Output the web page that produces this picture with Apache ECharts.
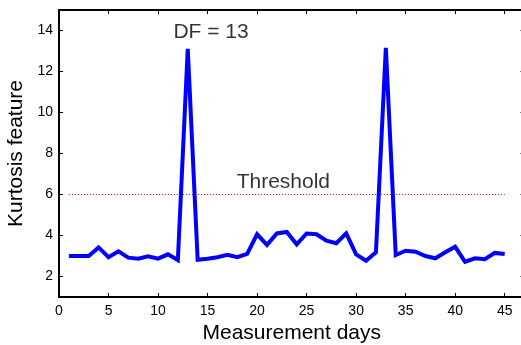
<!DOCTYPE html>
<html>
<head>
<meta charset="utf-8">
<script src="https://cdn.jsdelivr.net/npm/echarts@6/dist/echarts.min.js"></script>
<style>
html,body{margin:0;padding:0;background:#fff;}
#c{width:521px;height:345px;}
</style>
</head>
<body>
<div id="c"></div>
<script>
const days = [1,2,3,4,5,6,7,8,9,10,11,12,13,14,15,16,17,18,19,20,21,22,23,24,25,26,27,28,29,30,31,32,33,34,35,36,37,38,39,40,41,42,43,44,45];
const kurtosis = [3.0,3.0,3.0,3.42,2.94,3.23,2.92,2.87,2.98,2.87,3.08,2.8,13.1,2.82,2.87,2.94,3.06,2.94,3.1,4.06,3.54,4.1,4.17,3.57,4.1,4.06,3.75,3.62,4.1,3.08,2.77,3.18,13.15,3.05,3.26,3.21,3.0,2.89,3.18,3.45,2.72,2.89,2.84,3.15,3.1];
const thresholdValue = 6;
const thresholdDays = [1, 45];
const xTicks = [0,5,10,15,20,25,30,35,40,45];
const yTicks = [2,4,6,8,10,12,14];
const xRange = [0, 47];
const yRange = [1, 15];
const annotations = [
  {text: 'DF = 13', x: 15.35, y: 13.9},
  {text: 'Threshold', x: 22.65, y: 6.6}
];

const font = 'Liberation Sans, Arial, Helvetica, sans-serif';
const axisLineStyle = {color: '#000', width: 2};
const tickCommon = {show: true, inside: true, length: 4, lineStyle: {color: '#000', width: 1}};

const chart = echarts.init(document.getElementById('c'), null, {renderer: 'canvas'});
chart.setOption({
  animation: false,
  backgroundColor: '#fff',
  grid: {left: 59, right: -3.5, top: 10, bottom: 48, containLabel: false, outerBoundsMode: 'none'},
  xAxis: [
    {
      type: 'value', min: xRange[0], max: xRange[1], position: 'bottom',
      name: 'Measurement days', nameLocation: 'middle', nameGap: 26,
      nameTextStyle: {fontFamily: font, fontSize: 21, color: '#000'},
      axisLine: {show: true, onZero: false, lineStyle: axisLineStyle},
      axisTick: Object.assign({}, tickCommon, {customValues: xTicks}),
      axisLabel: {customValues: xTicks, margin: 7, fontFamily: font, fontSize: 14, color: '#000'},
      splitLine: {show: false}
    },
    {
      type: 'value', min: xRange[0], max: xRange[1], position: 'top',
      axisLine: {show: true, onZero: false, lineStyle: axisLineStyle},
      axisTick: Object.assign({}, tickCommon, {customValues: xTicks}),
      axisLabel: {show: false},
      splitLine: {show: false}
    }
  ],
  yAxis: [
    {
      type: 'value', min: yRange[0], max: yRange[1], position: 'left',
      name: 'Kurtosis feature', nameLocation: 'middle', nameGap: 28,
      nameTextStyle: {fontFamily: font, fontSize: 21, color: '#000'},
      axisLine: {show: true, onZero: false, lineStyle: axisLineStyle},
      axisTick: Object.assign({}, tickCommon, {customValues: yTicks}),
      axisLabel: {customValues: yTicks, margin: 6, fontFamily: font, fontSize: 14, color: '#000'},
      splitLine: {show: false}
    },
    {
      type: 'value', min: yRange[0], max: yRange[1], position: 'right',
      axisLine: {show: true, onZero: false, lineStyle: axisLineStyle},
      axisTick: Object.assign({}, tickCommon, {customValues: yTicks}),
      axisLabel: {show: false},
      splitLine: {show: false}
    }
  ],
  series: [
    {
      type: 'line',
      data: thresholdDays.map(d => [d, thresholdValue]),
      symbol: 'none',
      lineStyle: {color: '#ff0000', width: 1, type: [1, 2]},
      z: 2
    },
    {
      type: 'line',
      data: days.map((d, i) => [d, kurtosis[i]]),
      symbol: 'none',
      lineStyle: {color: '#0000ff', width: 4, join: 'miter', miterLimit: 20},
      z: 3
    },
    {
      type: 'scatter',
      data: annotations.map(a => ({value: [a.x, a.y], name: a.text})),
      symbolSize: 0,
      label: {show: true, position: 'inside', formatter: p => p.name, fontFamily: font, fontSize: 21, color: '#000'},
      z: 4
    }
  ]
});
</script>
</body>
</html>
